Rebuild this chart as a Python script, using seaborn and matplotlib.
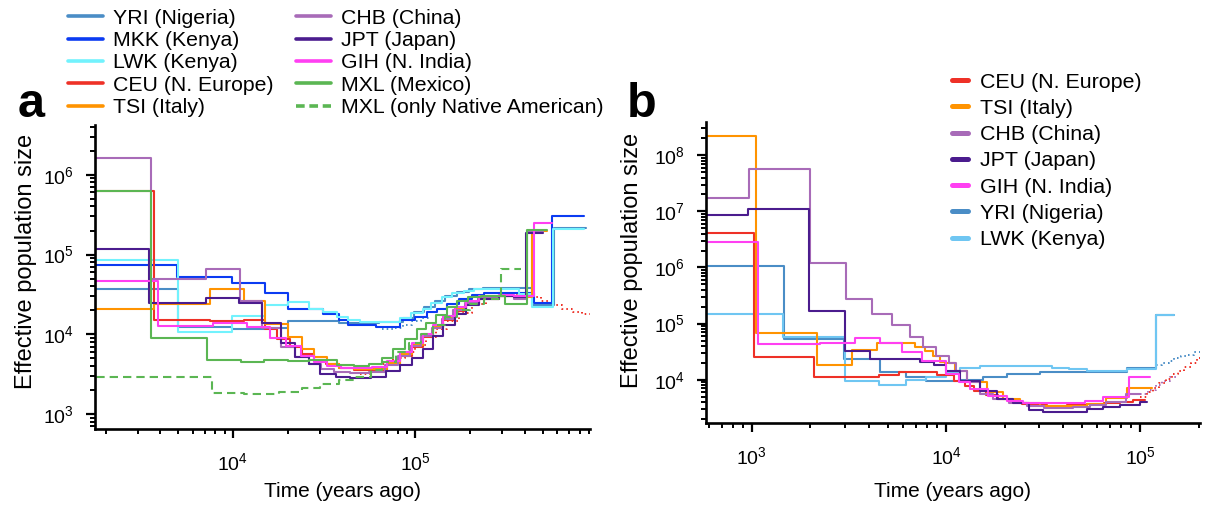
import matplotlib
matplotlib.use("Agg")
import matplotlib.pyplot as plt
from matplotlib.lines import Line2D
from matplotlib.ticker import LogLocator, NullFormatter
import pandas as pd
import seaborn as sns

# ---------------------------------------------------------------------------
# Step-function population size histories: step start times (years ago) with a
# final end time, and the effective population size held on each step.
# ---------------------------------------------------------------------------

# Panel a: four-haplotype estimates
YRI_A_T = [1500, 5000, 9900, 1.5e4, 2.0e4, 3.8e4, 6.3e4, 8.6e4, 9.8e4, 1.12e5, 1.28e5,
           1.46e5, 1.7e5, 1.98e5, 2.35e5, 4.4e5, 5.8e5, 8.6e5]
YRI_A_N = [3.7e4, 1.24e4, 1.15e4, 1.2e4, 1.45e4, 1.4e4, 1.42e4, 1.6e4, 1.9e4, 2.2e4,
           2.6e4, 3.0e4, 3.4e4, 3.7e4, 3.8e4, 2.3e4, 2.15e5]

MKK_A_T = [1500, 4900, 9900, 1.5e4, 2.0e4, 3.1e4, 3.8e4, 4.3e4, 6.1e4, 8.2e4, 1.0e5,
           1.16e5, 1.32e5, 1.5e5, 1.75e5, 2.05e5, 2.4e5, 4.5e5, 5.6e5, 8.4e5]
MKK_A_N = [7.3e4, 5.2e4, 4.4e4, 3.3e4, 2.1e4, 1.8e4, 1.5e4, 1.3e4, 1.24e4, 1.5e4, 1.65e4,
           1.9e4, 2.1e4, 2.4e4, 2.8e4, 3.1e4, 3.3e4, 2.5e4, 3.08e5]

LWK_A_T = [1500, 5000, 9900, 1.5e4, 2.0e4, 2.6e4, 3.1e4, 3.7e4, 4.3e4, 5.0e4, 8.2e4,
           9.5e4, 1.1e5, 1.22e5, 1.4e5, 1.6e5, 1.85e5, 2.1e5, 3.7e5, 4.4e5, 5.7e5, 8.4e5]
LWK_A_N = [8.5e4, 1.07e4, 1.7e4, 2.3e4, 2.55e4, 2.1e4, 1.9e4, 1.65e4, 1.5e4, 1.44e4,
           1.6e4, 1.85e4, 2.1e4, 2.5e4, 2.9e4, 3.3e4, 3.5e4, 3.7e4, 3.2e4, 2.2e4, 2.1e5]

CEU_A_T = [1500, 3700, 7500, 1.15e4, 1.5e4, 1.75e4, 2.05e4, 2.4e4, 2.8e4, 3.25e4, 3.8e4,
           4.6e4, 5.8e4, 7.0e4, 8.2e4, 9.6e4, 1.1e5, 1.25e5, 1.42e5, 1.65e5, 1.9e5,
           2.25e5, 2.9e5, 3.6e5]
CEU_A_N = [6.3e5, 1.5e4, 1.45e4, 1.5e4, 1.15e4, 8.8e3, 7.0e3, 5.6e3, 4.8e3, 4.2e3, 3.8e3,
           3.6e3, 3.6e3, 4.2e3, 5.3e3, 7.0e3, 9.3e3, 1.2e4, 1.5e4, 1.95e4, 2.4e4, 2.8e4,
           3.0e4]

TSI_A_T = [1500, 3700, 7500, 1.15e4, 1.5e4, 2.0e4, 2.4e4, 2.8e4, 3.3e4, 3.8e4, 4.6e4,
           5.8e4, 7.0e4, 8.2e4, 9.6e4, 1.1e5, 1.25e5, 1.42e5, 1.65e5, 1.9e5, 2.25e5,
           2.9e5, 3.5e5, 4.4e5, 5.3e5]
TSI_A_N = [2.05e4, 2.4e4, 3.7e4, 2.6e4, 1.35e4, 9.3e3, 6.6e3, 5.2e3, 4.3e3, 3.8e3, 3.7e3,
           3.7e3, 4.4e3, 5.7e3, 7.4e3, 9.8e3, 1.25e4, 1.6e4, 2.05e4, 2.5e4, 2.9e4, 3.0e4,
           2.9e4, 2.0e5]

CHB_A_T = [1500, 3550, 7100, 1.09e4, 1.44e4, 1.84e4, 2.2e4, 2.6e4, 3.05e4, 3.6e4, 4.4e4,
           5.6e4, 6.8e4, 8.0e4, 9.4e4, 1.08e5, 1.23e5, 1.4e5, 1.62e5, 1.88e5, 2.2e5,
           2.8e5, 3.5e5, 4.1e5, 5.0e5]
CHB_A_N = [1.6e6, 4.9e4, 6.5e4, 2.6e4, 1.2e4, 7.0e3, 5.2e3, 4.2e3, 3.7e3, 3.4e3, 3.3e3,
           3.4e3, 4.1e3, 5.4e3, 7.2e3, 9.6e3, 1.2e4, 1.55e4, 2.0e4, 2.5e4, 2.9e4, 3.0e4,
           2.8e4, 1.9e5]

JPT_A_T = [1500, 3450, 7100, 1.08e4, 1.44e4, 1.83e4, 2.2e4, 2.6e4, 3.0e4, 3.66e4, 4.4e4,
           5.7e4, 6.9e4, 8.2e4, 9.6e4, 1.1e5, 1.25e5, 1.42e5, 1.65e5, 1.9e5, 2.25e5,
           2.9e5, 3.5e5, 4.06e5, 5.0e5]
JPT_A_N = [1.17e5, 2.5e4, 2.85e4, 2.5e4, 1.4e4, 7.7e3, 5.2e3, 4.3e3, 3.2e3, 2.9e3, 2.8e3,
           2.9e3, 3.5e3, 4.1e3, 5.0e3, 6.6e3, 9.5e3, 1.3e4, 1.8e4, 2.3e4, 2.8e4, 3.0e4,
           2.9e4, 1.86e5]

GIH_A_T = [1500, 3900, 7800, 1.19e4, 1.6e4, 1.95e4, 2.35e4, 2.8e4, 3.3e4, 3.9e4, 4.7e4,
           5.8e4, 7.0e4, 8.2e4, 9.6e4, 1.1e5, 1.25e5, 1.42e5, 1.65e5, 1.9e5, 2.25e5,
           2.9e5, 3.5e5, 4.5e5, 5.6e5]
GIH_A_N = [4.6e4, 1.26e4, 1.39e4, 1.24e4, 8.9e3, 7.2e3, 5.4e3, 4.5e3, 4.0e3, 3.8e3, 3.8e3,
           3.9e3, 4.6e3, 6.0e3, 7.8e3, 1.0e4, 1.3e4, 1.7e4, 2.2e4, 2.6e4, 3.0e4, 3.1e4,
           3.0e4, 2.5e5]

MXL_A_T = [1500, 3560, 7200, 1.1e4, 1.48e4, 2.0e4, 2.6e4, 3.7e4, 4.6e4, 5.6e4, 6.6e4,
           7.6e4, 8.8e4, 1.02e5, 1.15e5, 1.3e5, 1.5e5, 1.7e5, 1.95e5, 2.3e5, 3.1e5, 4.1e5,
           5.3e5]
MXL_A_N = [6.2e5, 9.0e3, 4.7e3, 4.5e3, 4.7e3, 4.6e3, 4.7e3, 4.1e3, 4.0e3, 4.3e3, 5.0e3,
           6.6e3, 8.8e3, 1.15e4, 1.4e4, 1.75e4, 2.2e4, 2.6e4, 2.9e4, 3.0e4, 2.4e4, 2.05e5]

MXL_NAT_A_T = [1500, 7700, 1.15e4, 1.8e4, 2.4e4, 3.0e4, 3.8e4, 4.6e4, 5.7e4, 6.6e4, 7.8e4,
               9.2e4, 1.08e5, 1.25e5, 1.45e5, 1.7e5, 2.0e5, 2.4e5, 2.95e5, 3.8e5]
MXL_NAT_A_N = [2.9e3, 1.85e3, 1.8e3, 1.9e3, 2.15e3, 2.4e3, 2.7e3, 2.9e3, 3.6e3, 4.5e3,
               6.0e3, 7.8e3, 1.0e4, 1.3e4, 1.65e4, 2.0e4, 2.4e4, 2.8e4, 6.6e4]

# Panel a: two-haplotype estimates (dotted)
YRI_A_DOT_T = [6.6e4, 7.6e4, 8.6e4, 9.6e4, 1.08e5, 1.2e5]
YRI_A_DOT_N = [1.17e4, 1.2e4, 1.3e4, 1.45e4, 1.6e4]
CEU_A_DOT_T = [5.0e4, 5.8e4, 6.6e4, 7.6e4, 8.8e4, 1.0e5, 1.15e5, 1.3e5, 1.5e5, 1.75e5,
               2.05e5, 2.45e5, 3.0e5, 3.6e5, 4.2e5, 4.9e5, 5.6e5, 6.4e5, 7.3e5, 8.2e5, 9.2e5]
CEU_A_DOT_N = [3.2e3, 3.6e3, 4.2e3, 5.0e3, 6.0e3, 7.4e3, 9.2e3, 1.15e4, 1.45e4, 1.85e4,
               2.4e4, 3.0e4, 3.3e4, 3.2e4, 2.9e4, 2.6e4, 2.3e4, 2.1e4, 1.9e4, 1.8e4]

# Panel b: eight-haplotype estimates
CEU_B_T = [500, 1030, 2100, 4500, 5700, 9000, 1.1e4, 1.25e4, 1.4e4, 1.6e4, 1.85e4, 2.1e4,
           2.45e4, 2.8e4, 3.3e4, 4.2e4, 5.3e4, 6.5e4, 7.9e4, 9.2e4, 1.06e5]
CEU_B_N = [4.1e6, 2.5e4, 1.1e4, 1.23e4, 1.35e4, 1.2e4, 9.5e3, 7.8e3, 6.4e3, 5.3e3, 4.6e3,
           4.0e3, 3.7e3, 3.5e3, 3.4e3, 3.5e3, 3.7e3, 3.9e3, 4.1e3, 4.3e3]

TSI_B_T = [500, 1050, 2160, 3270, 4400, 6900, 7800, 8600, 9300, 9900, 1.11e4, 1.28e4,
           1.62e4, 1.97e4, 2.4e4, 3.05e4, 5.3e4, 6.7e4, 8.5e4, 1.15e5]
TSI_B_N = [2.2e8, 6.8e4, 1.8e4, 3.4e4, 4.6e4, 3.9e4, 3.3e4, 2.7e4, 2.1e4, 2.0e4, 1.45e4,
           9.0e3, 6.0e3, 4.5e3, 3.8e3, 3.4e3, 3.7e3, 4.7e3, 7.0e3]

CHB_B_T = [500, 967, 1990, 3040, 4150, 5250, 6500, 7600, 8900, 1.03e4, 1.13e4, 1.28e4,
           1.5e4, 1.75e4, 2.1e4, 2.6e4, 3.2e4, 4.5e4, 5.5e4, 6.7e4, 8.4e4, 1.0e5]
CHB_B_N = [1.7e7, 5.6e7, 1.2e6, 2.8e5, 1.5e5, 9.5e4, 5.8e4, 3.9e4, 2.7e4, 2.0e4, 1.45e4,
           9.0e3, 5.6e3, 4.6e3, 3.9e3, 3.4e3, 3.2e3, 3.3e3, 3.6e3, 4.0e3, 5.6e3]

JPT_B_T = [500, 960, 1970, 3000, 4050, 7300, 8700, 1.0e4, 1.18e4, 1.5e4, 1.83e4, 2.2e4,
           2.66e4, 3.17e4, 5.3e4, 6.45e4, 7.9e4, 1.0e5, 1.08e5]
JPT_B_N = [8.5e6, 1.1e7, 1.66e5, 3.3e4, 2.3e4, 2.1e4, 1.8e4, 1.45e4, 9.6e3, 6.3e3, 4.6e3,
           3.8e3, 2.9e3, 2.7e3, 3.0e3, 3.3e3, 3.6e3, 4.0e3]

GIH_B_T = [500, 1080, 2240, 3400, 4560, 5900, 7500, 1.0e4, 1.16e4, 1.33e4, 1.64e4,
           2.05e4, 2.5e4, 5.2e4, 6.45e4, 8.8e4, 1.12e5]
GIH_B_N = [2.9e6, 4.3e4, 4.6e4, 5.6e4, 4.6e4, 3.1e4, 2.2e4, 1.27e4, 9.0e3, 6.9e3, 5.2e3,
           4.2e3, 3.9e3, 4.2e3, 4.9e3, 1.1e4]

YRI_B_T = [500, 1460, 2990, 4560, 6250, 7900, 1.18e4, 1.55e4, 2.05e4, 3.05e4, 4.9e4,
           8.5e4, 1.2e5, 1.5e5]
YRI_B_N = [1.05e6, 5.4e4, 2.3e4, 1.35e4, 1.13e4, 9.6e3, 1.0e4, 1.1e4, 1.27e4, 1.35e4,
           1.4e4, 1.6e4, 1.4e5]

LWK_B_T = [500, 1440, 3000, 4500, 6250, 7900, 1.0e4, 1.18e4, 1.5e4, 2.2e4, 3.5e4, 4.3e4,
           5.3e4, 8.5e4, 1.2e5, 1.5e5]
LWK_B_N = [1.47e5, 5.7e4, 9.6e3, 8.2e3, 1.0e4, 1.1e4, 1.4e4, 1.6e4, 1.75e4, 1.77e4,
           1.65e4, 1.55e4, 1.45e4, 1.55e4, 1.4e5]

# Panel b: four-haplotype continuation (dotted)
YRI_B_DOT_T = [1.2e5, 1.3e5, 1.4e5, 1.5e5, 1.62e5, 1.75e5, 1.9e5, 2.05e5]
YRI_B_DOT_N = [1.8e4, 2.0e4, 2.2e4, 2.4e4, 2.6e4, 2.8e4, 3.1e4]
CEU_B_DOT_T = [1.0e5, 1.08e5, 1.16e5, 1.25e5, 1.35e5, 1.45e5, 1.56e5, 1.68e5, 1.82e5,
               1.96e5, 2.1e5]
CEU_B_DOT_N = [5.0e3, 6.0e3, 7.2e3, 8.7e3, 1.05e4, 1.25e4, 1.45e4, 1.7e4, 2.0e4, 2.4e4]
CHB_B_DOT_T = [1.0e5, 1.1e5, 1.2e5, 1.3e5, 1.42e5, 1.55e5]
CHB_B_DOT_N = [5.6e3, 6.5e3, 8.0e3, 9.5e3, 1.1e4]

LABELS_A = ["YRI (Nigeria)", "MKK (Kenya)", "LWK (Kenya)", "CEU (N. Europe)", "TSI (Italy)",
            "CHB (China)", "JPT (Japan)", "GIH (N. India)", "MXL (Mexico)",
            "MXL (only Native American)"]
LABELS_B = ["CEU (N. Europe)", "TSI (Italy)", "CHB (China)", "JPT (Japan)",
            "GIH (N. India)", "YRI (Nigeria)", "LWK (Kenya)"]

COLORS = {
    "YRI": "#4a8dc6", "MKK": "#0b3bf2", "LWK_A": "#72f2fd", "LWK_B": "#6fc6f2",
    "CEU": "#ee3127", "TSI": "#ff9300", "CHB": "#a86bb8", "JPT": "#4b1c8e",
    "GIH": "#ff3ff2", "MXL": "#5bb653",
}

# ---------------------------------------------------------------------------
sns.set_theme(style="ticks")
plt.rcParams["font.family"] = ["Liberation Sans", "DejaVu Sans"]
plt.rcParams["mathtext.default"] = "regular"
for key in ("text.color", "axes.labelcolor", "xtick.color", "ytick.color"):
    plt.rcParams[key] = "black"

LW = 1.5
DASH = (0, (4.0, 2.4))
DOT = (0, (0.8, 1.6))


def step_line(ax, times, sizes, color, style="-", lw=LW):
    frame = pd.DataFrame({"time": times, "ne": list(sizes) + [sizes[-1]]})
    sns.lineplot(data=frame, x="time", y="ne", ax=ax, color=color, linestyle=style,
                 linewidth=lw, drawstyle="steps-post", estimator=None, sort=False,
                 legend=False)


def style_axes(ax, xlim, ylim, ylabel_xy, xlabel_y):
    ax.set_xscale("log")
    ax.set_yscale("log")
    ax.set_xlim(*xlim)
    ax.set_ylim(*ylim)
    ax.xaxis.set_major_locator(LogLocator(base=10, numticks=12))
    ax.xaxis.set_minor_locator(LogLocator(base=10, subs=range(2, 10), numticks=12))
    ax.yaxis.set_major_locator(LogLocator(base=10, numticks=12))
    ax.yaxis.set_minor_locator(LogLocator(base=10, subs=range(2, 10), numticks=12))
    ax.xaxis.set_minor_formatter(NullFormatter())
    ax.yaxis.set_minor_formatter(NullFormatter())
    sns.despine(ax=ax)
    for side in ("left", "bottom"):
        ax.spines[side].set_linewidth(1.9)
        ax.spines[side].set_color("black")
    ax.tick_params(which="major", direction="out", length=6.5, width=1.6, colors="black",
                   labelsize=14, labelcolor="black")
    ax.tick_params(which="minor", direction="out", length=3.3, width=1.4, colors="black")
    ax.tick_params(axis="x", which="major", pad=10.5)
    ax.tick_params(axis="y", which="major", pad=8.5)
    ax.set_xlabel("Time (years ago)", fontsize=15, color="black")
    ax.set_ylabel("Effective population size", fontsize=17, color="black")
    ax.xaxis.set_label_coords(0.5, xlabel_y)
    ax.yaxis.set_label_coords(*ylabel_xy)
    ax.grid(False)


fig = plt.figure(figsize=(12.06, 5.07), dpi=100)
ax_a = fig.add_axes([0.0788, 0.1538, 0.4104, 0.5996])
ax_b = fig.add_axes([0.5854, 0.1657, 0.4096, 0.5937])

# ---- panel a ----
step_line(ax_a, YRI_A_DOT_T, YRI_A_DOT_N, COLORS["YRI"], DOT, 1.4)
step_line(ax_a, CEU_A_DOT_T, CEU_A_DOT_N, COLORS["CEU"], DOT, 1.4)
series_a = [
    (YRI_A_T, YRI_A_N, COLORS["YRI"], "-"),
    (MKK_A_T, MKK_A_N, COLORS["MKK"], "-"),
    (LWK_A_T, LWK_A_N, COLORS["LWK_A"], "-"),
    (CEU_A_T, CEU_A_N, COLORS["CEU"], "-"),
    (TSI_A_T, TSI_A_N, COLORS["TSI"], "-"),
    (CHB_A_T, CHB_A_N, COLORS["CHB"], "-"),
    (JPT_A_T, JPT_A_N, COLORS["JPT"], "-"),
    (GIH_A_T, GIH_A_N, COLORS["GIH"], "-"),
    (MXL_A_T, MXL_A_N, COLORS["MXL"], "-"),
    (MXL_NAT_A_T, MXL_NAT_A_N, COLORS["MXL"], DASH),
]
for t, n, c, ls in series_a:
    step_line(ax_a, t, n, c, ls)
style_axes(ax_a, (1750, 9.1e5), (650, 4.2e6), (-0.118, 0.55), -0.175)

# ---- panel b ----
step_line(ax_b, YRI_B_DOT_T, YRI_B_DOT_N, COLORS["YRI"], DOT, 1.4)
step_line(ax_b, CHB_B_DOT_T, CHB_B_DOT_N, COLORS["CHB"], DOT, 1.4)
step_line(ax_b, CEU_B_DOT_T, CEU_B_DOT_N, COLORS["CEU"], DOT, 1.4)
series_b = [
    (YRI_B_T, YRI_B_N, COLORS["YRI"]),
    (LWK_B_T, LWK_B_N, COLORS["LWK_B"]),
    (CEU_B_T, CEU_B_N, COLORS["CEU"]),
    (TSI_B_T, TSI_B_N, COLORS["TSI"]),
    (CHB_B_T, CHB_B_N, COLORS["CHB"]),
    (JPT_B_T, JPT_B_N, COLORS["JPT"]),
    (GIH_B_T, GIH_B_N, COLORS["GIH"]),
]
for t, n, c in series_b:
    step_line(ax_b, t, n, c)
style_axes(ax_b, (580, 2.03e5), (1700, 3.9e8), (-0.128, 0.54), -0.195)

# ---- legends ----
colors_a = [COLORS["YRI"], COLORS["MKK"], COLORS["LWK_A"], COLORS["CEU"], COLORS["TSI"],
            COLORS["CHB"], COLORS["JPT"], COLORS["GIH"], COLORS["MXL"], COLORS["MXL"]]
handles_a = [Line2D([], [], color=c, lw=2.6) for c in colors_a]
handles_a[-1].set_linestyle((0, (2.4, 1.3)))
leg_a = fig.legend(handles_a, LABELS_A, ncol=2, loc="upper left",
                   bbox_to_anchor=(0.0564, 0.983), frameon=False, fontsize=15.3,
                   handlelength=1.65, handletextpad=0.47, columnspacing=1.05,
                   labelspacing=0.16, borderpad=0, borderaxespad=0)

colors_b = [COLORS["CEU"], COLORS["TSI"], COLORS["CHB"], COLORS["JPT"], COLORS["GIH"],
            COLORS["YRI"], COLORS["LWK_B"]]
handles_b = [Line2D([], [], color=c, lw=3.6) for c in colors_b]
leg_b = fig.legend(handles_b, LABELS_B, loc="upper left", bbox_to_anchor=(0.7894, 0.857),
                   frameon=False, fontsize=15.4, handlelength=0.75, handletextpad=0.56,
                   labelspacing=0.34, borderpad=0, borderaxespad=0)
for leg in (leg_a, leg_b):
    for txt in leg.get_texts():
        txt.set_color("black")

# ---- panel letters ----
fig.text(0.0145, 0.769, "a", fontsize=35, fontweight="bold", ha="left", va="baseline")
fig.text(0.5195, 0.769, "b", fontsize=35, fontweight="bold", ha="left", va="baseline")

fig.savefig("out.png", dpi=100)
